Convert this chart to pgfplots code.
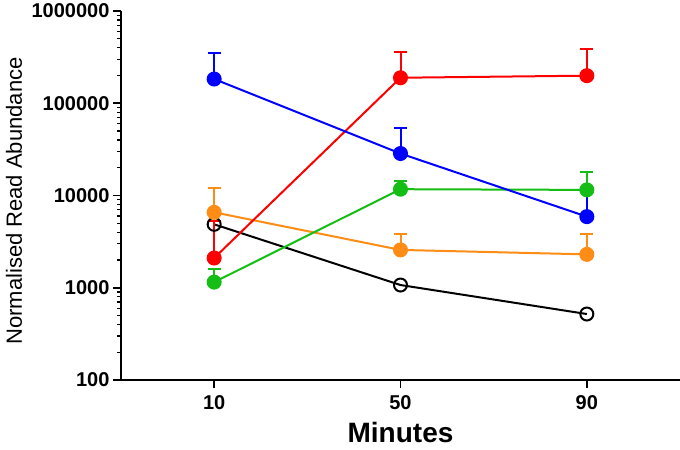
\documentclass[border=0pt]{standalone}
\usepackage{fontspec}
\setmainfont{Liberation Sans}
\usepackage{pgfplots}
\pgfplotsset{compat=1.18}
\definecolor{cblue}{RGB}{0,0,255}
\definecolor{cred}{RGB}{255,0,0}
\definecolor{cgreen}{RGB}{20,190,20}
\definecolor{corange}{RGB}{255,140,20}
\begin{document}
\begin{tikzpicture}
\begin{axis}[
  name=ax,
  scale only axis,
  width=559pt, height=369pt,
  ymode=log, log basis y=10,
  xmin=-10, xmax=110,
  ymin=100, ymax=1000000,
  axis lines=left,
  axis line style={-, line width=1.6pt},
  xtick={10,50,90},
  xticklabels={10,50,90},
  ytick={100,1000,10000,100000,1000000},
  yticklabels={100,1000,10000,100000,1000000},
  minor ytick={200,300,400,500,600,700,800,900,2000,3000,4000,5000,6000,7000,8000,9000,20000,30000,40000,50000,60000,70000,80000,90000,200000,300000,400000,500000,600000,700000,800000,900000},
  tick align=outside,
  major tick length=8pt,
  minor tick length=4pt,
  every tick/.style={black, line width=1.6pt},
  minor tick style={line width=1.2pt},
  tick label style={font=\bfseries\fontsize{20}{24}\selectfont},
  xticklabel style={yshift=-4pt},
  /pgf/number format/assume math mode=true,
  xlabel={Minutes},
  ylabel={Normalised Read Abundance},
  xlabel style={font=\bfseries\fontsize{28}{32}\selectfont, at={(axis description cs:0.5,0)}, anchor=center, inner sep=0pt, yshift=-53pt},
  ylabel style={font=\fontsize{22}{26}\selectfont, at={(axis description cs:0,0.485)}, anchor=center, yshift=107pt},
  clip=false,
  every axis plot/.append style={line width=2pt},
  error bars/y dir=plus,
  error bars/y explicit,
  error bars/error mark options={rotate=90, mark size=6.5pt, line width=2pt},
  error bars/error bar style={line width=2pt},
]
% black (open circles)
\addplot[color=black, mark=o, mark size=6.5pt, mark options={line width=2pt}, error bars/y dir=none] coordinates {
  (10,4870) (50,1070) (90,519)
};
% orange
\addplot[color=corange, mark=*, mark size=6.5pt] coordinates {
  (10,6570) +- (0,5580)
  (50,2570) +- (0,1230)
  (90,2300) +- (0,1500)
};
% red
\addplot[color=cred, mark=*, mark size=6.5pt] coordinates {
  (10,2100) +- (0,3200)
  (50,189000) +- (0,167000)
  (90,199000) +- (0,186000)
};
% green
\addplot[color=cgreen, mark=*, mark size=6.5pt] coordinates {
  (10,1150) +- (0,440)
  (50,11700) +- (0,2700)
  (90,11500) +- (0,6600)
};
% blue
\addplot[color=cblue, mark=*, mark size=6.5pt] coordinates {
  (10,183000) +- (0,165000)
  (50,28500) +- (0,25000)
  (90,5900) +- (0,5100)
};
\end{axis}
\pgfresetboundingbox
\path[use as bounding box] ([shift={(-121pt,-70pt)}]ax.south west) rectangle ([shift={(0pt,11pt)}]ax.north east);
\end{tikzpicture}
\end{document}
